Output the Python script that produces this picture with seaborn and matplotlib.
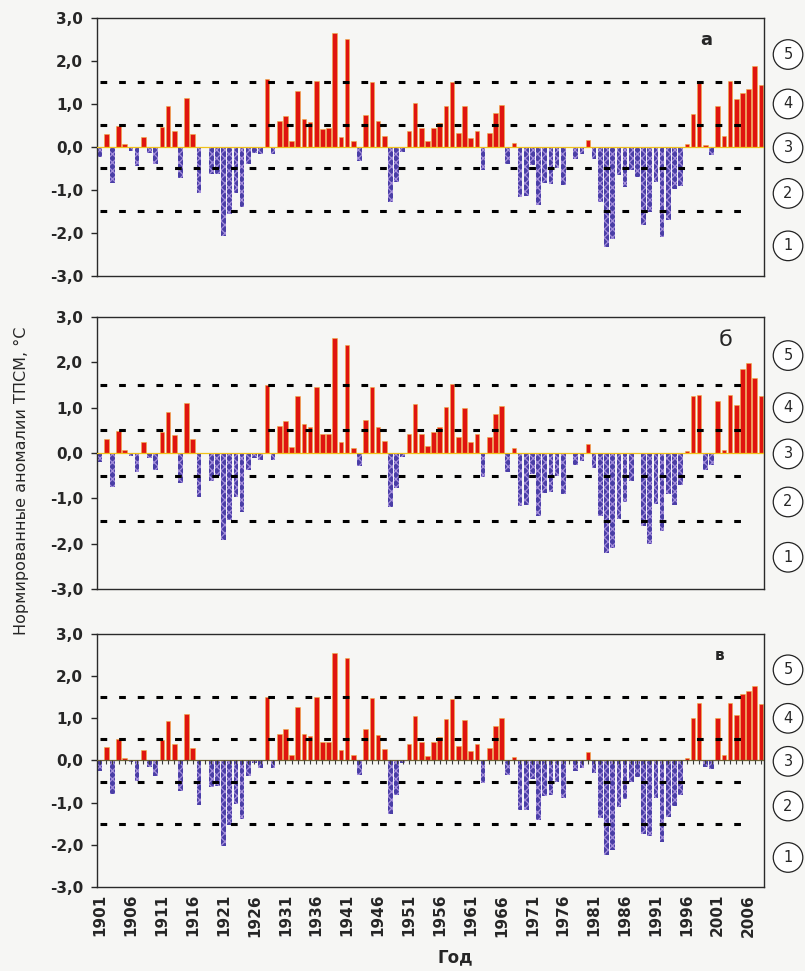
"""
Normalized SST anomalies (ТПСМ), 1901-2008
- three stacked bar panels (а, б, в)
- red for warm years, hatched blue for cold years
"""

import numpy as np
import pandas as pd
import matplotlib
matplotlib.use('Agg')
import matplotlib.pyplot as plt
import matplotlib.transforms as mtransforms
import seaborn as sns

# ── Data ─────────────────────────────────────────────────────────────────────
YEARS = list(range(1901, 2009))

VALS_A = [
    -0.23, 0.31, -0.83, 0.48, 0.06, -0.10, -0.45, 0.23, -0.15, -0.40,
    0.46, 0.95, 0.37, -0.72, 1.13, 0.30, -1.06, -0.03, -0.64, -0.62,
    -2.07, -1.55, -1.06, -1.40, -0.40, -0.15, -0.16, 1.57, -0.17, 0.61,
    0.72, 0.13, 1.31, 0.65, 0.57, 1.53, 0.41, 0.43, 2.66, 0.23,
    2.50, 0.13, -0.33, 0.74, 1.50, 0.60, 0.26, -1.28, -0.81, -0.12,
    0.37, 1.02, 0.43, 0.15, 0.45, 0.55, 0.95, 1.50, 0.33, 0.95,
    0.22, 0.36, -0.53, 0.33, 0.80, 0.97, -0.40, 0.09, -1.17, -1.13,
    -0.41, -1.36, -0.83, -0.85, -0.50, -0.89, -0.02, -0.27, -0.16, 0.16,
    -0.27, -1.29, -2.33, -2.13, -0.66, -0.93, -0.54, -0.70, -1.82, -1.51,
    -0.81, -2.09, -1.70, -0.97, -0.91, 0.06, 0.76, 1.49, 0.04, -0.19,
    0.95, 0.25, 1.53, 1.12, 1.26, 1.34, 1.88, 1.43,
]

VALS_B = [
    -0.20, 0.31, -0.76, 0.48, 0.06, -0.07, -0.42, 0.24, -0.12, -0.37,
    0.46, 0.90, 0.39, -0.67, 1.10, 0.31, -0.98, -0.02, -0.61, -0.51,
    -1.92, -1.47, -0.98, -1.30, -0.38, -0.10, -0.16, 1.50, -0.15, 0.60,
    0.71, 0.13, 1.26, 0.64, 0.57, 1.46, 0.43, 0.43, 2.53, 0.25,
    2.38, 0.10, -0.29, 0.73, 1.45, 0.58, 0.27, -1.18, -0.78, -0.08,
    0.42, 1.08, 0.42, 0.16, 0.46, 0.57, 1.01, 1.52, 0.35, 1.00,
    0.24, 0.42, -0.53, 0.35, 0.86, 1.04, -0.41, 0.11, -1.16, -1.14,
    -0.46, -1.38, -0.88, -0.85, -0.51, -0.90, -0.02, -0.27, -0.17, 0.20,
    -0.32, -1.38, -2.21, -2.10, -1.46, -1.08, -0.61, -0.03, -1.60, -2.01,
    -1.13, -1.73, -0.91, -1.15, -0.70, 0.04, 1.25, 1.29, -0.37, -0.27,
    1.14, 0.07, 1.27, 1.07, 1.85, 1.98, 1.66, 1.25,
]

VALS_C = [
    -0.25, 0.32, -0.80, 0.50, 0.05, -0.04, -0.49, 0.24, -0.16, -0.37,
    0.48, 0.94, 0.38, -0.72, 1.11, 0.30, -1.05, -0.02, -0.63, -0.61,
    -2.02, -1.52, -1.03, -1.39, -0.36, -0.05, -0.18, 1.50, -0.18, 0.62,
    0.74, 0.13, 1.28, 0.62, 0.58, 1.50, 0.43, 0.43, 2.56, 0.24,
    2.42, 0.13, -0.34, 0.75, 1.47, 0.61, 0.27, -1.27, -0.83, -0.05,
    0.39, 1.06, 0.43, 0.11, 0.43, 0.55, 0.98, 1.46, 0.34, 0.97,
    0.22, 0.38, -0.53, 0.30, 0.81, 1.01, -0.35, 0.08, -1.18, -1.18,
    -0.45, -1.40, -0.85, -0.83, -0.50, -0.89, -0.02, -0.26, -0.18, 0.19,
    -0.30, -1.37, -2.25, -2.12, -1.10, -0.92, -0.52, -0.38, -1.75, -1.80,
    -0.90, -1.93, -1.33, -1.09, -0.82, 0.06, 1.01, 1.36, -0.16, -0.20,
    1.01, 0.12, 1.36, 1.08, 1.58, 1.64, 1.77, 1.33,
]

PANEL_LETTERS = ['а', 'б', 'в']
LEVELS = [1.5, 0.5, -0.5, -1.5]
CLASS_LABELS = ['5', '4', '3', '2', '1']
CLASS_Y = [2.15, 1.0, -0.02, -1.08, -2.3]
Y_TICKS = [3, 2, 1, 0, -1, -2, -3]

# ── Style ────────────────────────────────────────────────────────────────────
BG = '#f6f6f4'
RED = '#e0150f'
RED_EDGE = '#f0b040'
BLUE = '#4a3ea6'
BLUE_HATCH = '#a58fdc'
ZERO_COLORS = ['#f0c21a', '#f0c21a', '#6d6233']

# axes rects in figure fraction (left, bottom, width, height)
RECTS = [
    [0.1205, 0.7158, 0.8286, 0.2657],
    [0.1205, 0.3934, 0.8286, 0.2801],
    [0.1205, 0.0865, 0.8286, 0.2606],
]
LETTER_POS = [(0.913, 0.915), (0.943, 0.915), (0.933, 0.915)]
LETTER_SIZE = [13, 16, 11]
LETTER_WEIGHT = ['bold', 'normal', 'bold']

sns.set_style('ticks')
plt.rcParams['font.family'] = ['DejaVu Sans']
plt.rcParams['hatch.linewidth'] = 0.9


def fmt_tick(v):
    return f'{v:.1f}'.replace('.', ',')


def draw_panel(ax, vals, idx):
    df = pd.DataFrame({'year': YEARS, 'value': vals})
    df['sign'] = np.where(df['value'] >= 0, 'pos', 'neg')

    sns.barplot(data=df, x='year', y='value', hue='sign',
                palette={'pos': RED, 'neg': BLUE}, dodge=False,
                width=0.75, saturation=1, legend=False, ax=ax, zorder=2)

    # cold years get the dotted blue fill
    for p in ax.patches:
        if p.get_height() < 0:
            p.set_hatch('xxxx')
            p.set_edgecolor(BLUE_HATCH)
            p.set_linewidth(0)
        else:
            p.set_edgecolor(RED_EDGE)
            p.set_linewidth(0.4)

    ax.axhline(0, color=ZERO_COLORS[idx], lw=0.9, zorder=3)
    for lv in LEVELS:
        ax.axhline(lv, xmin=0.005, xmax=0.98, color='black', lw=2.2,
                   ls=(0, (2.2, 3.9)), zorder=4)

    ax.set_xlim(-0.5, len(YEARS) - 0.5)
    ax.set_ylim(-3, 3)
    ax.set_yticks(Y_TICKS)
    ax.set_yticklabels([fmt_tick(v) for v in Y_TICKS], fontsize=11,
                       fontweight='bold')
    ax.tick_params(axis='y', length=4, width=1, pad=6)
    ax.set_xlabel('')
    ax.set_ylabel('')
    ax.set_facecolor(BG)
    for s in ax.spines.values():
        s.set_visible(True)
        s.set_linewidth(1.0)
        s.set_color('#2a2a2a')

    if idx < 2:
        ax.set_xticks([])
    else:
        pos = list(range(len(YEARS)))
        ax.set_xticks(pos[::5])
        ax.set_xticklabels([str(y) for y in YEARS[::5]], rotation=90,
                           fontsize=11, fontweight='bold')
        ax.tick_params(axis='x', length=0, pad=5)
        # small year ticks along the zero line
        ax.vlines(pos, -0.09, 0, color='#3a3a3a', lw=0.8, zorder=3)

    # letter of the panel
    lx, ly = LETTER_POS[idx]
    ax.text(lx, ly, PANEL_LETTERS[idx], transform=ax.transAxes,
            fontsize=LETTER_SIZE[idx], fontweight=LETTER_WEIGHT[idx],
            ha='center', va='center')

    # class numbers in circles on the right
    trans = mtransforms.blended_transform_factory(ax.transAxes, ax.transData)
    for lbl, y in zip(CLASS_LABELS, CLASS_Y):
        ax.text(1.036, y, lbl, transform=trans, ha='center', va='center',
                fontsize=10.5, clip_on=False,
                bbox=dict(boxstyle='circle,pad=0.5', fc='white',
                          ec='#222222', lw=0.9))


# ── Figure ───────────────────────────────────────────────────────────────────
fig = plt.figure(figsize=(8.05, 9.71), dpi=100, facecolor=BG)

for i, vals in enumerate([VALS_A, VALS_B, VALS_C]):
    ax = fig.add_axes(RECTS[i])
    draw_panel(ax, vals, i)

fig.text(0.027, 0.505, 'Нормированные аномалии ТПСМ, °С', rotation=90,
         ha='center', va='center', fontsize=11.5)
fig.text(0.565, 0.014, 'Год', ha='center', va='center', fontsize=12,
         fontweight='bold')

fig.savefig('out.png', dpi=100, facecolor=BG)
print('saved out.png')
